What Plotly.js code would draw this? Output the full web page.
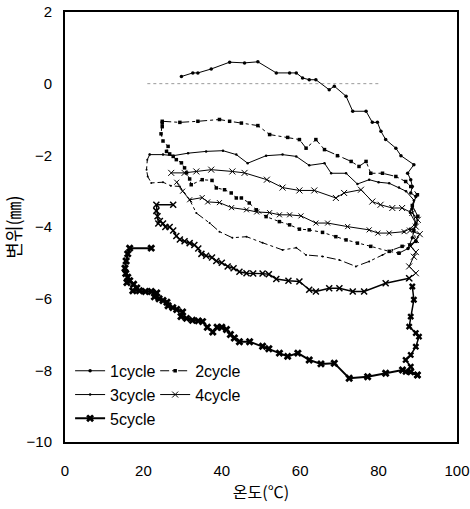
<!DOCTYPE html>
<html>
<head>
<meta charset="utf-8">
<script src="https://cdn.plot.ly/plotly-3.0.1.min.js"></script>
<style>html,body{margin:0;padding:0;background:#fff;}#chart{width:470px;height:509px;}</style>
</head>
<body>
<div id="chart"></div>
<script>
// ---- data (temperature °C, displacement mm) ----
const cycleNames = ["1cycle", "2cycle", "3cycle", "4cycle", "5cycle"];

// heating branches (incl. hold at ~90 °C)
const cycle1HeatT = [29.7,32.6,33.9,37.3,42,45.8,49.2,53.9,57.3,59,60.6,62.3,64,67.4,68.7,71.7,73.4,76.8,78.4,79.7,80.6,81.8,84.4,85.7,89,
  87.4,88.2,88.6,88.2,89.5,88.5,89.5,88.6,87.5,85.2];
const cycle1HeatD = [0.2,0.3,0.3,0.41,0.6,0.58,0.61,0.3,0.3,0.3,0.16,0.11,0.11,-0.17,-0.07,-0.35,-0.77,-0.77,-1.08,-1.08,-1.33,-1.56,-1.8,-2.01,-2.26,
  -2.5,-2.68,-2.87,-3.05,-3.15,-3.5,-3.9,-4.3,-4.6,-4.73];
const cycle2HeatT = [24.8,29.3,33.9,39.4,42,45,49.2,52.2,56.8,59.8,61.5,64,66.2,69.5,73,75,76.8,78,81,84.4,86.9,88.2,
  89.9,88.6,90,89,89.5,88,86];
const cycle2HeatD = [-1.05,-1.08,-1.05,-1.0,-1.05,-1.1,-1.17,-1.42,-1.5,-1.56,-1.8,-1.56,-1.84,-2.01,-2.17,-2.31,-2.17,-2.5,-2.5,-2.59,-2.73,-2.87,
  -3.1,-3.4,-3.7,-4.1,-4.4,-4.5,-4.54];
const cycle3HeatT = [21.6,25,27.6,31.4,36,40.3,43.7,46.6,51.3,55.5,59,62.3,66.2,67.9,71.7,74.6,77.6,80,82.7,85.2,
  87,89,88,89.5,88,86.5];
const cycle3HeatD = [-1.98,-1.98,-2.01,-1.94,-1.89,-1.87,-1.98,-2.22,-2.01,-1.98,-2.03,-2.28,-2.22,-2.5,-2.5,-2.8,-2.68,-2.75,-2.78,-2.9,
  -3.0,-3.25,-3.6,-3.9,-4.05,-4.13];
const cycle4HeatT = [27.1,30.5,33.5,37.3,42.7,45.8,51.5,55.5,59.8,63.6,69.1,71.2,75.5,78.4,80.5,83.5,86,
  88.6,90,89.5,88,90.5,89.5,88.2,89.5,89,87.8,89.5,87.8];
const cycle4HeatD = [-2.49,-2.49,-2.45,-2.4,-2.45,-2.49,-2.68,-2.9,-2.98,-2.98,-3.19,-3.05,-2.96,-3.29,-3.38,-3.47,-3.47,
  -3.61,-3.8,-3.99,-4.1,-4.2,-4.36,-4.54,-4.7,-4.83,-5.1,-5.29,-5.43];
const cycle5HeatT = [22,16.5,16,15.6,15.3,15.5,16,15.8,16.5,17.5,18.3,17.3,19,20.5,22,23.4,22.8,24,25,26,26.3,27.5,28.5,30,29.6,31,32.5,34,35.1,36.3,37.7,38.8,40,41.2,42.2,43.2,44.5,
  47.1,50.4,52,54.7,56.8,59.4,62.3,65.3,68.7,72.5,77.2,81.8,86.1,88.2,89.9];
const cycle5HeatD = [-4.59,-4.59,-4.75,-4.95,-5.15,-5.3,-5.4,-5.55,-5.5,-5.6,-5.7,-5.78,-5.78,-5.8,-5.8,-5.84,-5.95,-6.0,-6.05,-6.1,-6.2,-6.25,-6.3,-6.37,-6.5,-6.55,-6.6,-6.62,-6.64,-6.8,-6.93,-6.8,-6.8,-6.86,-7.0,-7.1,-7.2,
  -7.2,-7.33,-7.4,-7.52,-7.61,-7.52,-7.71,-7.82,-7.8,-8.22,-8.18,-8.08,-7.99,-8.04,-8.13];

// cooling / return branches
const cycle1CoolT = [85.2,82.7,78,74.6,71.7,69.1,65.7,62.3,59.8,57.3,54.7,51.3,48.8,47,45,43.7,42.4,40.7,38.6,37.5,35,32.2,31.8,31,30.5,29.7,28.4,27.6,26.7,25.9,26.3,25,24.5,24.8,24.8];
const cycle1CoolD = [-4.73,-4.68,-4.54,-4.45,-4.36,-4.27,-4.15,-4.08,-4.06,-3.94,-3.85,-3.71,-3.52,-3.33,-3.19,-3.19,-3.05,-2.96,-2.91,-2.7,-2.68,-2.82,-2.66,-2.49,-2.35,-2.21,-2.12,-2.03,-1.96,-1.89,-1.75,-1.6,-1.4,-1.2,-1.1];
const cycle2CoolT = [86,83.5,81,77.6,74.2,70,65.7,61.5,59,55.5,50.4,46.3,42.7,39.4,36.9,33.5,31.8,29.3,27,25,22,21.1,20.8,21,21.6];
const cycle2CoolD = [-4.54,-4.64,-4.78,-4.96,-5.1,-4.92,-4.82,-4.78,-4.58,-4.64,-4.44,-4.27,-4.3,-4.13,-3.89,-3.61,-3.24,-2.87,-2.85,-2.75,-2.77,-2.59,-2.4,-2.12,-1.98];
const cycle3CoolT = [86.5,82.7,79.8,77.6,72.1,67,64,60.2,57.3,54.7,52.2,48.9,46.3,42.5,39.4,36.4,35,31.8,30,28.5];
const cycle3CoolD = [-4.13,-4.17,-4.17,-4.08,-3.99,-3.89,-3.89,-3.69,-3.66,-3.66,-3.6,-3.58,-3.52,-3.46,-3.32,-3.3,-3.18,-3.24,-3.0,-2.75];
const cycle4CoolT = [87.8,81.8,76.3,73.4,70,67.4,64,62.3,59.8,57,53.9,52,50.4,48,46.3,44.5,43,41.5,40,38.6,37.5,36,34.8,34,33,31.8,30.5,29.3,28.4,27.6,26.7,25.6,25,24.2,23.8,23.6,23.3,23.3,27.6];
const cycle4CoolD = [-5.43,-5.57,-5.8,-5.8,-5.71,-5.71,-5.8,-5.75,-5.52,-5.5,-5.45,-5.32,-5.3,-5.3,-5.29,-5.25,-5.15,-5.1,-5.0,-4.95,-4.85,-4.8,-4.75,-4.6,-4.5,-4.45,-4.4,-4.35,-4.25,-4.1,-4.0,-4.0,-3.9,-3.83,-3.9,-3.7,-3.55,-3.38,-3.38];
const cycle5CoolT = [89.9,86.9,88.2,86.9,88.2,89.5,90.3,89.5,87.8,88.2,89,88.6];
const cycle5CoolD = [-8.13,-8.04,-7.9,-7.71,-7.57,-7.34,-7.06,-6.96,-6.78,-6.5,-6.03,-5.66];

const zeroRefT = [21, 80];
const zeroRefD = [0, 0];

const xTicks = [0, 20, 40, 60, 80, 100];
const yTicks = [-10, -8, -6, -4, -2, 0, 2];

// ---- styles ----
const heatStyles = [
  {dash: "solid", width: 1, symbol: "circle", size: 3.5, mlw: 0},
  {dash: "dashdot", width: 1, symbol: "square", size: 3.5, mlw: 0},
  {dash: "solid", width: 1, symbol: "circle", size: 2.5, mlw: 0},
  {dash: "solid", width: 1, symbol: "x-thin-open", size: 6, mlw: 1},
  {dash: "solid", width: 2, symbol: "x", size: 7, mlw: 0}
];
const coolStyles = [
  {dash: "dot", width: 1, symbol: "square", size: 3.5, mlw: 0},
  {dash: "dashdot", width: 1, symbol: "circle", size: 2, mlw: 0},
  {dash: "solid", width: 1, symbol: "x-thin-open", size: 5, mlw: 1},
  {dash: "solid", width: 1.4, symbol: "x-thin-open", size: 6, mlw: 1.5},
  {dash: "solid", width: 1.5, symbol: "x", size: 6, mlw: 0}
];
const heatX = [cycle1HeatT, cycle2HeatT, cycle3HeatT, cycle4HeatT, cycle5HeatT];
const heatY = [cycle1HeatD, cycle2HeatD, cycle3HeatD, cycle4HeatD, cycle5HeatD];
const coolX = [cycle1CoolT, cycle2CoolT, cycle3CoolT, cycle4CoolT, cycle5CoolT];
const coolY = [cycle1CoolD, cycle2CoolD, cycle3CoolD, cycle4CoolD, cycle5CoolD];
const legendOf = ["legend", "legend2", "legend", "legend2", "legend"];

function mk(x, y, s) {
  return {
    x: x, y: y, type: "scatter", mode: "lines+markers",
    line: {color: "#000", width: s.width, dash: s.dash},
    marker: {color: "#000", symbol: s.symbol, size: s.size, line: {color: "#000", width: s.mlw}}
  };
}

const traces = [{
  x: zeroRefT, y: zeroRefD, mode: "lines", showlegend: false, hoverinfo: "skip",
  line: {color: "#999", width: 1, dash: "dot"}
}];
for (let i = 0; i < 5; i++) {
  const c = mk(coolX[i], coolY[i], coolStyles[i]);
  c.showlegend = false; c.legendgroup = cycleNames[i];
  traces.push(c);
}
for (let i = 0; i < 5; i++) {
  const h = mk(heatX[i], heatY[i], heatStyles[i]);
  h.name = cycleNames[i]; h.legendgroup = cycleNames[i]; h.legend = legendOf[i];
  traces.push(h);
}

const tickFont = {family: "Liberation Sans, Arial, sans-serif", size: 15, color: "#000"};
const legFont = {family: "Liberation Sans, Arial, sans-serif", size: 16, color: "#000"};
const layout = {
  width: 470, height: 509,
  margin: {l: 65, r: 13, t: 12, b: 67},
  paper_bgcolor: "#fff", plot_bgcolor: "#fff",
  showlegend: true,
  xaxis: {
    range: [0, 100], tickvals: xTicks, ticks: "", showgrid: false, zeroline: false,
    showline: true, linecolor: "#000", linewidth: 2, mirror: true,
    tickfont: tickFont, ticklabelstandoff: 14,
    title: {text: "온도(℃)", font: {family: "Noto Sans CJK KR, sans-serif", size: 16, color: "#000"}, standoff: 9}
  },
  yaxis: {
    range: [-10, 2], tickvals: yTicks, ticks: "", showgrid: false, zeroline: false,
    showline: true, linecolor: "#000", linewidth: 2, mirror: true,
    tickfont: tickFont, ticklabelstandoff: 8,
    title: {text: "변위(㎜)", font: {family: "Noto Sans CJK KR, sans-serif", size: 18, color: "#000"}, standoff: 6}
  },
  legend: {
    orientation: "v", x: 0.013, xanchor: "left", y: 0.205, yanchor: "top",
    bgcolor: "rgba(0,0,0,0)", traceorder: "normal", font: legFont, tracegroupgap: 0
  },
  legend2: {
    orientation: "v", x: 0.23, xanchor: "left", y: 0.205, yanchor: "top",
    bgcolor: "rgba(0,0,0,0)", traceorder: "normal", font: legFont, tracegroupgap: 0
  }
};

Plotly.newPlot("chart", traces, layout, {staticPlot: true, displayModeBar: false});
</script>
</body>
</html>
